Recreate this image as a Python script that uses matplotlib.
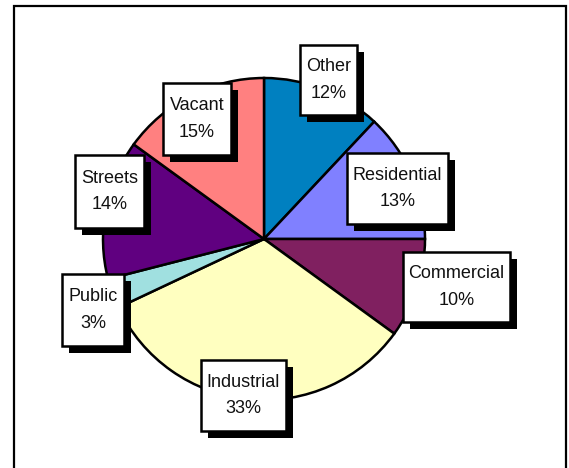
import matplotlib.pyplot as plt
from matplotlib.patches import Rectangle

# --- data ---
categories = ['Other', 'Residential', 'Commercial', 'Industrial', 'Public', 'Streets', 'Vacant']
shares = [12, 13, 10, 33, 3, 14, 15]
colors = ['#0080C0', '#8080FF', '#802060', '#FFFFC0', '#A0E0E0', '#600080', '#FF8080']

# label boxes in pixels: left, top, right, bottom (y from top)
label_boxes = [(300, 45, 357, 115), (347, 153, 448, 224), (403, 252, 510, 322),
               (201, 360, 286, 431), (62, 274, 124, 346), (75, 155, 144, 228),
               (163, 83, 231, 155)]

W, H = 569, 468
fig = plt.figure(figsize=(W / 100, H / 100), dpi=100)
ax = fig.add_axes([0, 0, 1, 1])

ax.pie(shares, colors=colors, startangle=90, counterclock=False,
       center=(264, H - 239), radius=161,
       wedgeprops=dict(edgecolor='black', linewidth=1.8))
ax.set_xlim(0, W)
ax.set_ylim(0, H)
ax.set_aspect('auto')
ax.axis('off')

# outer frame
ax.add_patch(Rectangle((14, -10), 552, H - 6 + 10, fill=False, ec='black', lw=1.6))

shadow = 7
for name, pct, (x0, y0, x1, y1) in zip(categories, shares, label_boxes):
    w, h = x1 - x0, y1 - y0
    ax.add_patch(Rectangle((x0 + shadow, H - y1 - shadow), w, h, fc='black', ec='none', zorder=3))
    ax.add_patch(Rectangle((x0, H - y1), w, h, fc='white', ec='black', lw=1.8, zorder=4))
    ax.text((x0 + x1) / 2, H - (y0 + y1) / 2, f'{name}\n{pct}%', ha='center', va='center',
            fontsize=13, family='Liberation Sans', linespacing=1.75, color='#111111', zorder=5)

fig.savefig('out.png', dpi=100)
